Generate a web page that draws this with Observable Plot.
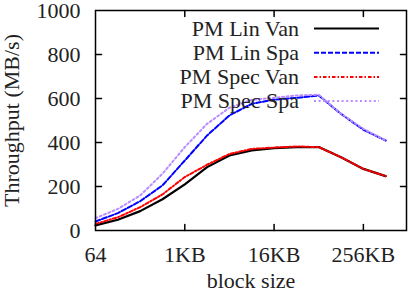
<!DOCTYPE html>
<html><head><meta charset="utf-8">
<script src="https://cdn.jsdelivr.net/npm/d3@7"></script>
<script src="https://cdn.jsdelivr.net/npm/@observablehq/plot@0.6"></script>
<style>
body{margin:0;background:#fff}
#wrap{position:relative;width:409px;height:290px}
#legend{position:absolute;left:0;top:0;pointer-events:none}
</style>
</head><body><div id="wrap"></div>
<script>
const blockSizes = [64,128,256,512,1024,2048,4096,8192,16384,32768,65536,131072,262144,524288];
const linVan  = [23,49,88,142,210,288,341,364,374,379,379,333,280,247];
const linSpa  = [41,79,133,205,318,432,523,576,595,603,614,530,458,409];
const specVan = [30,60,106,164,243,299,348,371,377,382,379,333,280,247];
const specSpa = [56,98,159,258,379,485,558,594,603,614,617,530,462,409];
const seriesNames = ["PM Lin Van","PM Lin Spa","PM Spec Van","PM Spec Spa"];
const xTickValues = [64,1024,16384,262144];
const xTickLabels = ["64","1KB","16KB","256KB"];
const yTickValues = [0,200,400,600,800,1000];
const yMinorTicks = [200,400,600,800];

const seriesValues = [linVan, linSpa, specVan, specSpa];
const colors = ["#000000","#0000ff","#ff0000","#b98cff"];
const dashes = [null,"5,2","3.5,2,1.5,2","2,2.6"];
const widths = [2.2,2,2,2];
const font = "'Liberation Serif','Times New Roman',serif";

const tickShape = {draw(ctx, l){ ctx.moveTo(0,0); ctx.lineTo(0,-l); }};
const tickOpts = {length: 6, anchor: "start", shape: tickShape, stroke: "black", strokeWidth: 1.5};

const table = blockSizes.flatMap((b,i) => seriesNames.map((s,k) => ({size:b, value:seriesValues[k][i], series:s})));

const marks = [
  Plot.axisX(xTickValues, {tickSize:0, tickPadding:16, tickFormat:(d)=>xTickLabels[xTickValues.indexOf(d)], fontSize:22, fill:"#222", label:null}),
  Plot.axisY(yTickValues, {tickSize:0, tickPadding:15, tickFormat:(d)=>String(d), fontSize:22, fill:"#222", label:null}),
  Plot.vector(xTickValues.slice(1), {x:d=>d, frameAnchor:"bottom", rotate:0, ...tickOpts}),
  Plot.vector(xTickValues.slice(1), {x:d=>d, frameAnchor:"top", rotate:180, ...tickOpts}),
  Plot.vector(yMinorTicks, {y:d=>d, frameAnchor:"left", rotate:90, ...tickOpts}),
  Plot.vector(yMinorTicks, {y:d=>d, frameAnchor:"right", rotate:-90, ...tickOpts}),
];
seriesNames.forEach((s,k) => {
  marks.push(Plot.line(table.filter(d=>d.series===s), {x:"size", y:"value", stroke:colors[k], strokeWidth:widths[k], strokeDasharray:dashes[k], strokeLinejoin:"round"}));
});
marks.push(Plot.frame({stroke:"black", strokeWidth:1.5}));
marks.push(Plot.text(["block size"], {frameAnchor:"bottom", dy:50, fontSize:22, fill:"#222", lineAnchor:"middle", textAnchor:"middle"}));
marks.push(Plot.text(["Throughput (MB/s)"], {frameAnchor:"left", dx:-84, rotate:-90, fontSize:22, fill:"#222", lineAnchor:"middle", textAnchor:"middle"}));

const chart = Plot.plot({
  width: 409, height: 290,
  marginLeft: 95, marginRight: 3, marginTop: 10, marginBottom: 60,
  style: {fontFamily: font, fontSize: "22px", background: "#fff", overflow: "visible"},
  x: {type:"log", base:2, domain:[64, 1000000]},
  y: {domain:[0,1000]},
  marks
});
const wrap = document.getElementById("wrap");
wrap.appendChild(chart);

// legend inside the plot area, top-right
const rowY = [28.5, 52.7, 76.9, 101.1];
const lg = d3.select(wrap).append("svg").attr("id","legend").attr("width",409).attr("height",290)
  .attr("font-family", font).attr("font-size", 22);
seriesNames.forEach((s,k) => {
  lg.append("text").attr("x",299).attr("y",rowY[k]+7).attr("text-anchor","end").attr("fill","#222").text(s);
  lg.append("line").attr("x1",314).attr("x2",379).attr("y1",rowY[k]).attr("y2",rowY[k])
    .attr("stroke",colors[k]).attr("stroke-width",widths[k]).attr("stroke-dasharray",dashes[k]);
});
</script>
</body></html>
